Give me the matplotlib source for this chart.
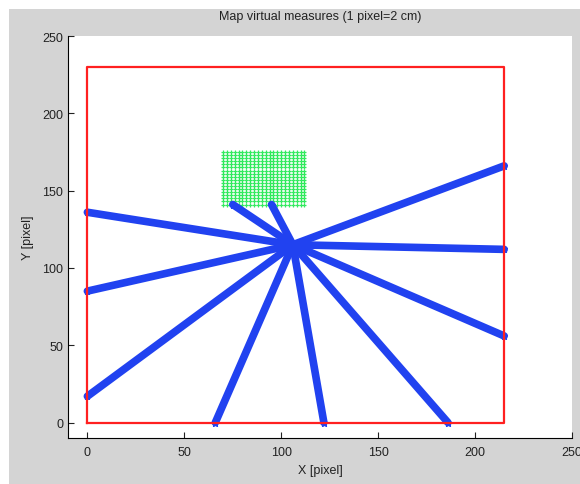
import numpy as np
import matplotlib
matplotlib.use("Agg")
import matplotlib.pyplot as plt
from matplotlib.patches import Rectangle

# map border (red box)
map_width = 215
map_height = 230

# green obstacle region (grid of points)
obstacle_x = (70, 112)
obstacle_y = (141, 175)
obstacle_step = 2

# sensor position and end points of each virtual measure
center_x = 106
center_y = 115
end_x = [0, 0, 0, 66, 122, 186, 215, 215, 215, 75, 95]
end_y = [136, 85, 17, 0, 0, 0, 56, 112, 166, 141, 141]

plt.rcParams["font.family"] = ["Liberation Sans", "DejaVu Sans"]

fig = plt.figure(figsize=(5.8, 4.85), dpi=100)
fig.patch.set_facecolor("white")
fig.patches.append(Rectangle((9 / 580, 0), 1, 1 - 10 / 485, transform=fig.transFigure,
                             facecolor="#d4d4d4", edgecolor="none", zorder=-10))

ax = fig.add_axes([68 / 580, 46 / 485, 504 / 580, 402 / 485])
ax.set_facecolor("white")

# obstacle
gx, gy = np.meshgrid(np.arange(obstacle_x[0], obstacle_x[1] + 1, obstacle_step),
                     np.arange(obstacle_y[0], obstacle_y[1] + 1, obstacle_step))
ax.plot(gx.ravel(), gy.ravel(), "+", color="#1ee84f", ms=3.5, mew=0.9, alpha=0.9)

# measures
for ex, ey in zip(end_x, end_y):
    ax.plot([center_x, ex], [center_y, ey], "-", color="#2142f0", lw=5.5,
            solid_capstyle="round")
    ax.plot(ex, ey, "*", color="#2142f0", ms=5)

# map border
ax.plot([0, map_width, map_width, 0, 0], [0, 0, map_height, map_height, 0],
        color="#ff2020", lw=1.6)

ax.set_xlim(-10, 250)
ax.set_ylim(-10, 250)
ax.set_xticks([0, 50, 100, 150, 200, 250])
ax.set_yticks([0, 50, 100, 150, 200, 250])
ax.spines["top"].set_visible(False)
ax.spines["right"].set_visible(False)
ax.tick_params(direction="in", length=4, labelsize=9, colors="#222222")
ax.tick_params(axis="x", pad=6)

ax.set_title("Map virtual measures (1 pixel=2 cm)", fontsize=9, color="#222222", pad=12)
ax.set_xlabel("X [pixel]", fontsize=9, color="#222222", labelpad=4)
ax.set_ylabel("Y [pixel]", fontsize=9, color="#222222", labelpad=6)

fig.savefig("out.png", dpi=100, facecolor=fig.get_facecolor())
